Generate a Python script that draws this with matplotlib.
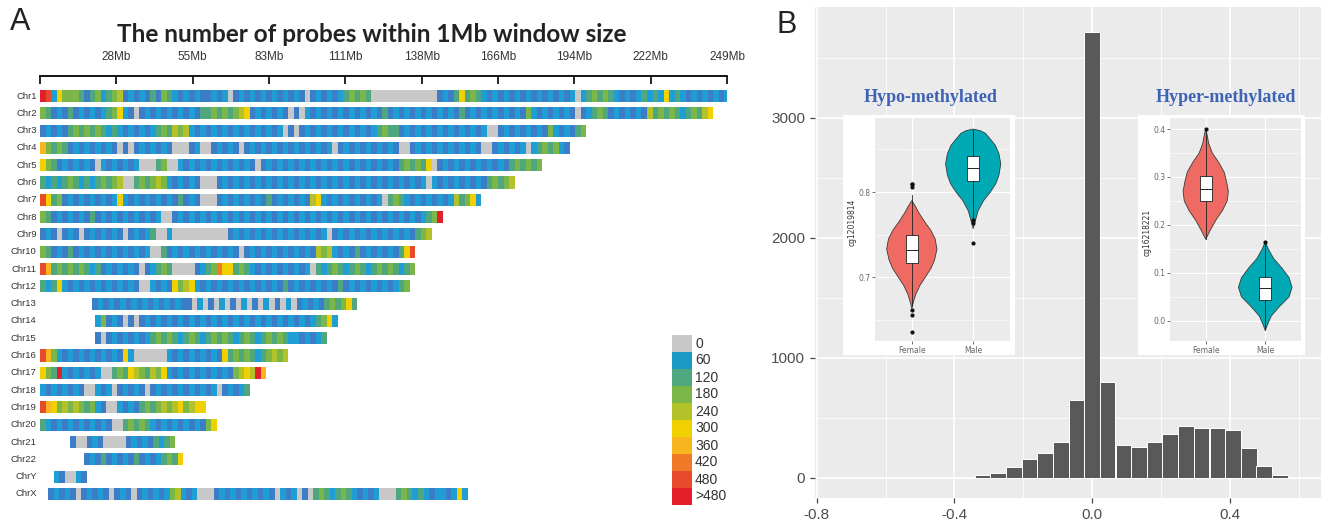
import numpy as np
import matplotlib
matplotlib.use('Agg')
import matplotlib.pyplot as plt
from matplotlib.colors import ListedColormap, BoundaryNorm
from matplotlib.patches import Rectangle, Polygon

W, H = 1325, 521

# ---------------- data: panel A (probe density per 2 Mb, class codes) ----------------
chrom_names = ['Chr1', 'Chr2', 'Chr3', 'Chr4', 'Chr5', 'Chr6', 'Chr7', 'Chr8', 'Chr9', 'Chr10',
               'Chr11', 'Chr12', 'Chr13', 'Chr14', 'Chr15', 'Chr16', 'Chr17', 'Chr18', 'Chr19',
               'Chr20', 'Chr21', 'Chr22', 'ChrY', 'ChrX']
chrom_start = [0, 0, 0, 0, 0, 0, 0, 0, 0, 0, 0, 0, 19, 20, 20, 0, 0, 0, 0, 0, 11, 16, 5, 3]
bin_mb = 2
chrom_bins = [
    "A926444" "31342345" "1212131" "43" "212121" "1212012121" "2121212101" "21212" "34343"
    "000000000000" "12136343" "21212121212121212" "0" "2343432" "1212323262" "3212121212",
    "43" "1213121212" "34" "6" "210" "12121212121" "33434345" "6" "1212121" "010"
    "2121212121212131212121212121312121212121" "4" "21212121" "0" "12" "343" "1212121" "5"
    "34343234356",
    "12121" "3434343232" "121212" "343545" "21212121212121212" "010" "12121212121212" "3433"
    "1212121212121212" "00" "121212121" "4" "2121" "34",
    "7" "4343" "121212121" "0" "101" "212121" "000" "12" "00"
    "1212101212121212121212012121212121" "00" "1212121212121" "00" "121212" "02" "3434" "21",
    "6" "43" "1212121" "0" "2121212" "000" "34" "00" "2121212121212101212121212121212121212121"
    "34343" "6" "0" "1212121212121" "343434",
    "3232343232343" "45" "00" "343454" "212121" "000" "12121212121212121212121212121212121212"
    "0" "2121212121" "34345",
    "9" "634" "1212121212" "6" "21212121213121" "000" "12121212131212121" "56" "21212121212"
    "0" "343212121212" "5" "34" "62",
    "43" "12121213121212121212" "00" "1212121212121212121212121212121212121212121212" "34" "A",
    "12101210121212101212" "3" "00" "2" "0000000000" "121212121212121212" "0"
    "121212121212121" "345",
    "43" "121312121212121212" "00" "3121212121212101212121212121" "545" "2121312121213" "69",
    "97" "343434323" "1212121012" "343" "0000" "1234" "8" "66" "34321212121212" "0"
    "323432343234343234",
    "323" "6" "21212121212121" "00" "2121" "6" "45" "6" "21212"
    "1212121212131212121213121212121234",
    "12121212121212121" "102010201020102010201" "21213434" "63",
    "24" "1210101212" "12121212121212121212" "12121212" "3462",
    "1012121212" "34343234323434323432343432" "212123",
    "97" "4212121212121" "6" "2" "000000" "2121212121" "6" "34343234" "545",
    "6" "43" "A" "2121212" "00" "3436543546" "212121212121" "4565" "A" "7",
    "21212121" "00" "212" "0" "12121" "0" "121212121212" "0" "12123",
    "976" "45454" "34" "21" "00" "2121" "3434" "5456" "4566",
    "3212121212121" "00" "34343" "2121212121" "46",
    "1" "00" "121" "0000" "121213234",
    "121312121312123436",
    "210021",
    "1212101212101210121212" "45" "212" "000" "121212121210212" "010" "3432343" "21212" "000"
    "34323212" "212" "62",
]
code_counts = {'0': 0, '1': 25, '2': 60, '3': 120, '4': 180, '5': 240, '6': 300,
               '7': 360, '8': 420, '9': 470, 'A': 500}
axis_ticks_mb = np.linspace(0, 249, 10)
axis_tick_labels = ['', '28Mb', '55Mb', '83Mb', '111Mb', '138Mb', '166Mb', '194Mb',
                    '222Mb', '249Mb']

legend_labels = ['0', '60', '120', '180', '240', '300', '360', '420', '480', '>480']
legend_colors = ['#c8c8c8', '#1a9bc7', '#4fa77f', '#7ab648', '#b4c22a', '#f0d000',
                 '#f7b51e', '#ef7b29', '#e84b2b', '#e3202a']

# ---------------- data: panel B ----------------
bin_mid = [-0.455, -0.409, -0.364, -0.318, -0.273, -0.227, -0.182, -0.136, -0.091, -0.045,
           0.0, 0.045, 0.091, 0.136, 0.182, 0.227, 0.273, 0.318, 0.364, 0.409, 0.455, 0.5, 0.545]
bin_count = [2, 1, 3, 25, 44, 92, 161, 211, 300, 650, 3720, 800, 272, 256, 300, 370, 430,
             414, 414, 397, 247, 100, 28]
bin_w = 0.0455

# violin outlines: value, half-width (category spacing = 1)
hypo_f_y = [0.663, 0.672, 0.68, 0.69, 0.70, 0.71, 0.72, 0.733, 0.745, 0.755, 0.765, 0.775, 0.783, 0.79]
hypo_f_w = [0.0, 0.03, 0.065, 0.13, 0.22, 0.31, 0.37, 0.41, 0.38, 0.31, 0.21, 0.12, 0.06, 0.0]
hypo_m_y = [0.757, 0.765, 0.778, 0.79, 0.80, 0.81, 0.82, 0.833, 0.845, 0.855, 0.863, 0.869, 0.872, 0.874]
hypo_m_w = [0.0, 0.03, 0.08, 0.17, 0.28, 0.37, 0.42, 0.45, 0.42, 0.36, 0.27, 0.2, 0.12, 0.0]
hyper_f_y = [0.17, 0.19, 0.21, 0.23, 0.25, 0.27, 0.29, 0.31, 0.33, 0.35, 0.37, 0.39, 0.40]
hyper_f_w = [0.0, 0.08, 0.17, 0.28, 0.36, 0.38, 0.35, 0.31, 0.22, 0.11, 0.05, 0.02, 0.0]
hyper_m_y = [-0.02, -0.01, 0.01, 0.03, 0.05, 0.07, 0.09, 0.11, 0.13, 0.15, 0.165]
hyper_m_w = [0.0, 0.03, 0.1, 0.24, 0.40, 0.45, 0.40, 0.28, 0.14, 0.05, 0.0]

# box stats: q1, median, q3, whisker low, whisker high, outliers
hypo_f_box = (0.7165, 0.732, 0.749, 0.666, 0.797, [0.806, 0.809, 0.81, 0.661, 0.656, 0.636])
hypo_m_box = (0.8125, 0.828, 0.842, 0.77, 0.873, [0.767, 0.7635, 0.74])
hyper_f_box = (0.25, 0.2745, 0.302, 0.17, 0.395, [0.40])
hyper_m_box = (0.043, 0.069, 0.0906, -0.02, 0.16, [0.165])

female_col = '#ee6a62'
male_col = '#00aab5'


def px_box(x0, y0, x1, y1):
    return [x0 / W, 1 - y1 / H, (x1 - x0) / W, (y1 - y0) / H]


fig = plt.figure(figsize=(W / 100, H / 100), dpi=100)
fig.patch.set_facecolor('white')

# ---------------- panel A ----------------
cmap = ListedColormap(['#c8c8c8', '#3b7dc6', '#1f9ed6', '#4fa77f', '#7ab648', '#b4c22a',
                       '#f0d000', '#f7b51e', '#ef7b29', '#e84b2b', '#e3202a'])
norm = BoundaryNorm([-0.5, 0.5, 40, 90, 150, 210, 270, 330, 390, 450, 490, 10000], cmap.N)

axA = fig.add_axes(px_box(40, 76, 727, 502.6))
for i, (name, start, codes) in enumerate(zip(chrom_names, chrom_start, chrom_bins)):
    counts = np.array([code_counts[c] for c in codes], dtype=float)
    edges = start + bin_mb * np.arange(len(codes) + 1)
    axA.pcolormesh(edges, [i - 0.35, i + 0.35], counts[None, :], cmap=cmap, norm=norm)
    axA.text(-1.2, i, name, ha='right', va='center', fontsize=6.8, color='#333333',
             family='Liberation Sans')
axA.set_xlim(0, 249)
axA.set_ylim(23.5, -1.156)
for s in ['left', 'right', 'bottom']:
    axA.spines[s].set_visible(False)
axA.spines['top'].set_linewidth(1.3)
axA.xaxis.tick_top()
axA.set_xticks(axis_ticks_mb)
axA.set_xticklabels(axis_tick_labels, fontsize=8.5, family='Liberation Sans', color='#333333')
axA.tick_params(axis='x', direction='in', length=6, width=1.2, pad=9)
axA.set_yticks([])

fig.text(372 / W, 1 - 34 / H, 'The number of probes within 1Mb window size', ha='center',
         va='center', fontsize=17.5, fontweight='bold', family='Lato', color='#222222')
fig.text(20 / W, 1 - 22 / H, 'A', ha='center', va='center', fontsize=22,
         family='Liberation Sans', color='#222222')

# legend
for k, (lab, col) in enumerate(zip(legend_labels, legend_colors)):
    y0 = 335 + 17 * k
    fig.patches.append(Rectangle((672 / W, 1 - (y0 + 17) / H), 20 / W, 17 / H,
                                 transform=fig.transFigure, facecolor=col, edgecolor='none'))
    fig.text(695 / W, 1 - (y0 + 8.5) / H, lab, ha='left', va='center', fontsize=10,
             family='Liberation Sans', color='#333333')

# ---------------- panel B ----------------
axB = fig.add_axes(px_box(815, 7, 1321, 498))
axB.set_facecolor('#ebebeb')
axB.bar(bin_mid, bin_count, width=bin_w, color='#595959', edgecolor='white', linewidth=0.7,
        zorder=3)
axB.set_xlim(-0.805, 0.665)
axB.set_ylim(-167, 3925)
axB.set_xticks([-0.8, -0.4, 0.0, 0.4])
axB.set_xticklabels(['-0.8', '-0.4', '0.0', '0.4'])
axB.set_xticks([-0.6, -0.2, 0.2, 0.6], minor=True)
axB.set_yticks([0, 1000, 2000, 3000])
axB.set_yticks([500, 1500, 2500, 3500], minor=True)
axB.grid(which='major', color='white', linewidth=1.2, zorder=0)
axB.grid(which='minor', color='white', linewidth=0.6, zorder=0)
axB.set_axisbelow(True)
for s in axB.spines.values():
    s.set_visible(False)
axB.tick_params(which='major', length=3.5, width=0.9, color='#444444', labelsize=11,
                labelcolor='#4d4d4d')
axB.tick_params(which='minor', length=0)
for t in axB.get_xticklabels() + axB.get_yticklabels():
    t.set_family('Liberation Sans')
fig.text(787 / W, 1 - 25 / H, 'B', ha='center', va='center', fontsize=22,
         family='Liberation Sans', color='#222222')


def draw_inset(box_px, panel_px, ylim, yticks, yminor, ylabel, ylab_xy, profiles, boxes):
    bg = fig.add_axes(px_box(*box_px))
    bg.set_facecolor('white')
    bg.set_xticks([])
    bg.set_yticks([])
    for s in bg.spines.values():
        s.set_visible(False)
    ax = fig.add_axes(px_box(*panel_px))
    ax.set_facecolor('#ebebeb')
    for s in ax.spines.values():
        s.set_visible(False)
    ax.set_ylim(*ylim)
    ax.set_yticks(yticks)
    ax.set_yticklabels(['%.1f' % v for v in yticks])
    ax.set_yticks(yminor, minor=True)
    ax.grid(which='major', color='white', linewidth=0.8)
    ax.grid(which='minor', axis='y', color='white', linewidth=0.4)
    ax.set_axisbelow(True)
    ax.tick_params(which='major', length=2, width=0.6, color='#555555', labelsize=5.5,
                   labelcolor='#666666', pad=1.5)
    ax.tick_params(which='minor', length=0)
    for (yy, ww), col, xc in zip(profiles, [female_col, male_col], [1, 2]):
        yy = np.array(yy)
        ww = np.array(ww)
        pts = np.concatenate([np.column_stack([xc - ww, yy]),
                              np.column_stack([xc + ww[::-1], yy[::-1]])])
        ax.add_patch(Polygon(pts, closed=True, facecolor=col, edgecolor='#3a3a3a',
                             linewidth=0.6, zorder=2))
    stats = []
    for q1, med, q3, lo, hi, fl in boxes:
        stats.append(dict(q1=q1, med=med, q3=q3, whislo=lo, whishi=hi, fliers=fl))
    ax.bxp(stats, positions=[1, 2], widths=0.2, patch_artist=True, showcaps=False,
           boxprops=dict(facecolor='white', edgecolor='#222222', linewidth=0.6),
           medianprops=dict(color='#222222', linewidth=0.7),
           whiskerprops=dict(color='#222222', linewidth=0.6),
           flierprops=dict(marker='o', markersize=2, markerfacecolor='#111111',
                           markeredgecolor='#111111'), zorder=3)
    ax.set_xlim(0.4, 2.6)
    ax.set_xticks([1, 2])
    ax.set_xticklabels(['Female', 'Male'])
    fig.text(ylab_xy[0] / W, 1 - ylab_xy[1] / H, ylabel, rotation=90, ha='center',
             va='center', fontsize=5.5, color='#333333')


draw_inset((843, 115, 1015, 355), (875, 118, 1010, 341), (0.625, 0.887), [0.7, 0.8],
           [0.65, 0.75, 0.85], 'cg12019814', (852, 222),
           [(hypo_f_y, hypo_f_w), (hypo_m_y, hypo_m_w)], [hypo_f_box, hypo_m_box])
draw_inset((1138, 115, 1305, 355), (1170, 118, 1301, 341), (-0.042, 0.423),
           [0.0, 0.1, 0.2, 0.3, 0.4], [0.05, 0.15, 0.25, 0.35], 'cg16218221', (1147, 232),
           [(hyper_f_y, hyper_f_w), (hyper_m_y, hyper_m_w)], [hyper_f_box, hyper_m_box])

fig.text(931 / W, 1 - 98 / H, 'Hypo-methylated', ha='center', va='center', fontsize=13,
         fontweight='bold', family='Liberation Serif', color='#3d63b5')
fig.text(1226 / W, 1 - 98 / H, 'Hyper-methylated', ha='center', va='center', fontsize=13,
         fontweight='bold', family='Liberation Serif', color='#3d63b5')

fig.savefig('out.png', dpi=100)
